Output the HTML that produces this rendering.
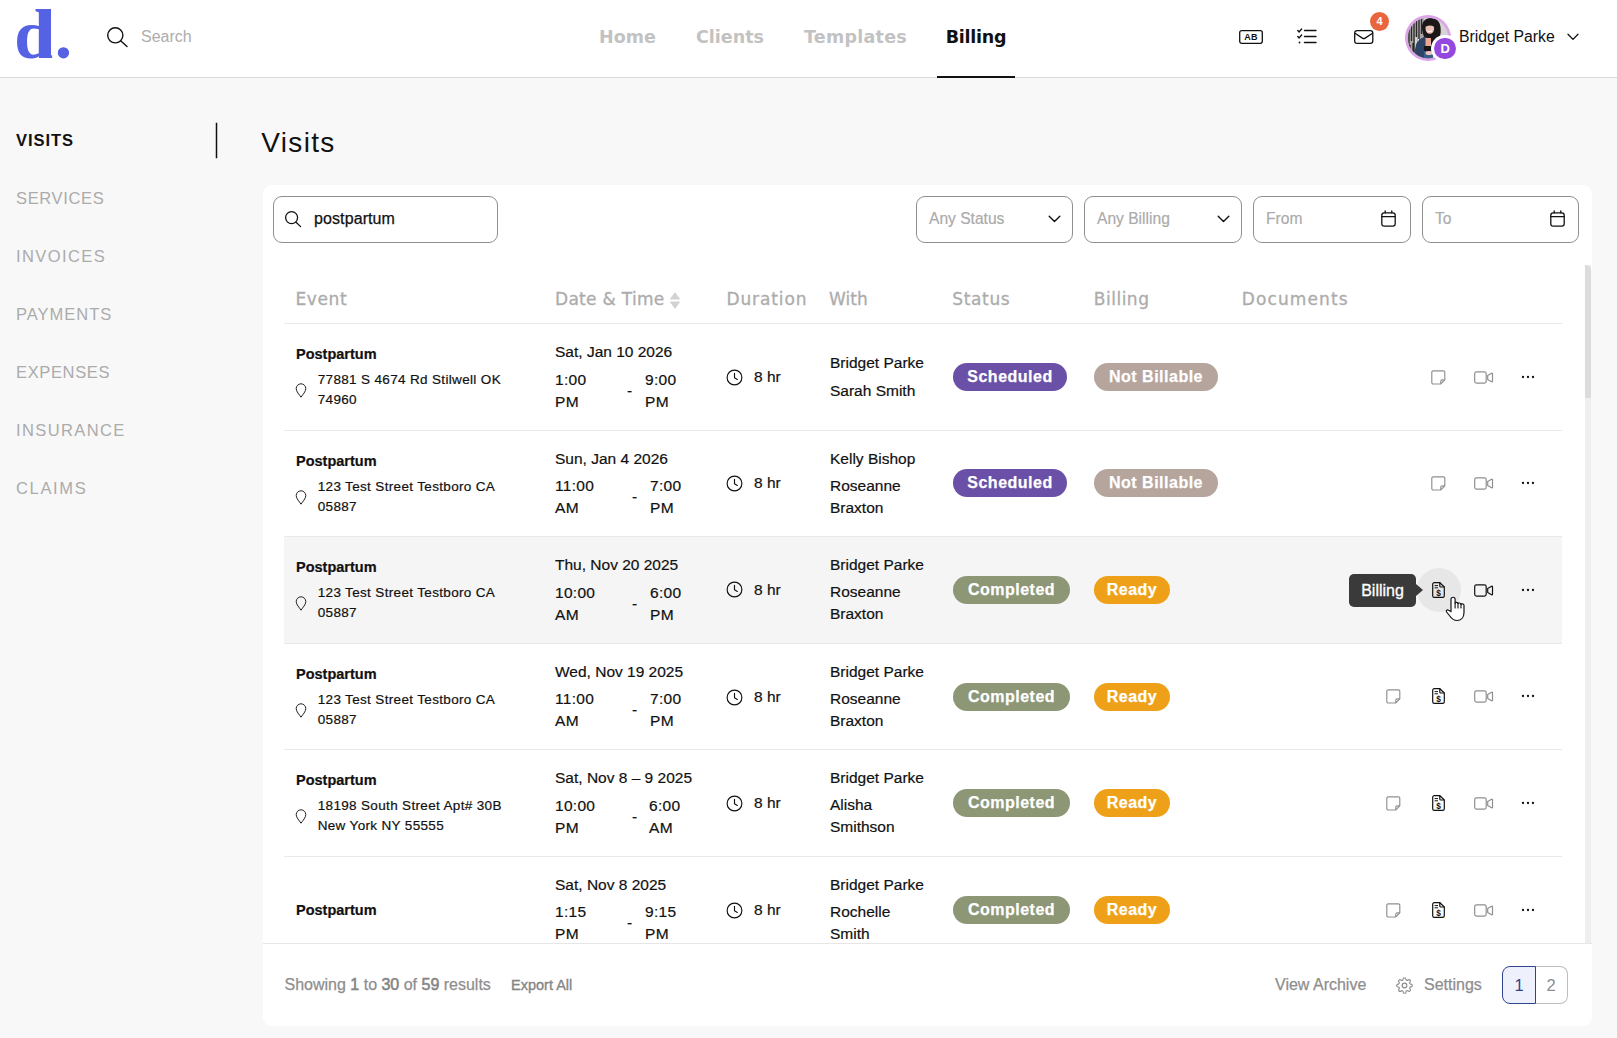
<!DOCTYPE html>
<html lang="en">
<head>
<meta charset="utf-8">
<title>Visits</title>
<style>
*{box-sizing:border-box;margin:0;padding:0}
html,body{width:1617px;height:1038px;overflow:hidden;background:#f8f8f8;font-family:"Liberation Sans",sans-serif;color:#111}
.abs{position:absolute}
svg{position:absolute;overflow:visible}
#hdr{position:absolute;left:0;top:0;width:1617px;height:78px;background:#fff;border-bottom:1px solid #dadada}
#logo{position:absolute;left:14.2px;top:.4px;font-family:"Liberation Serif",serif;font-weight:bold;font-size:69.5px;line-height:69.5px;color:#5562e4;letter-spacing:2px;white-space:nowrap}
#hsearch{position:absolute;left:141px;top:27px;font-size:16px;line-height:20px;color:#adadad}
.nav{position:absolute;top:25.7px;font-family:"DejaVu Sans","Liberation Sans",sans-serif;font-size:17.5px;line-height:22px;font-weight:bold;color:#c2c2c2;white-space:nowrap}
.nav.on{color:#111}
#navline{position:absolute;left:937px;top:76px;width:78px;height:2px;background:#111}
#uname{position:absolute;left:1459px;top:26px;font-size:15.8px;line-height:22px;color:#111;white-space:nowrap}
.side{position:absolute;left:16px;font-size:16.5px;line-height:20px;color:#ababab;white-space:nowrap}
.side.on{color:#111;font-weight:bold}
#sideline{position:absolute;left:216px;top:123px;width:1px;height:35px;background:#111;box-shadow:0 0 0 .25px #111}
h1{position:absolute;left:261.2px;top:123.5px;font-size:28px;line-height:38px;font-weight:normal;color:#111;letter-spacing:1.35px;white-space:nowrap}
#card{position:absolute;left:263px;top:185px;width:1329px;height:841px;background:#fff;border-radius:9px;overflow:hidden}
.inp{position:absolute;top:196px;height:47px;border:1px solid #8f8f8f;border-radius:9px;background:#fff;font-size:15.6px;line-height:44.5px;color:#ababab;-webkit-text-stroke:.2px #ababab;white-space:nowrap}
.inp span{position:absolute;left:12px;top:0}
.th{position:absolute;top:287.8px;font-family:"DejaVu Sans","Liberation Sans",sans-serif;font-size:17px;line-height:22px;color:#acacac;-webkit-text-stroke:.3px #acacac;white-space:nowrap}
.line{position:absolute;left:284px;width:1278px;height:1px;background:#e9e9e9}
.row{position:absolute;left:284px;width:1278px}
.row.hov{background:#f5f5f5}
.t{position:absolute;white-space:nowrap;color:#111;-webkit-text-stroke:.2px #111}
.title{font-weight:bold;font-size:14.5px;line-height:18px}
.addr{font-size:13.5px;line-height:19.8px;letter-spacing:.34px}
.dt{font-size:15.5px;line-height:22px}
.tm{letter-spacing:.3px}
.nm{font-size:15.5px;line-height:22px}
.chip{position:absolute;height:28px;border-radius:14px;color:#fff;font-weight:bold;font-size:16px;line-height:28.6px;-webkit-text-stroke:.25px #fff;text-align:center;letter-spacing:.5px;white-space:nowrap}
.sch{background:#6a50a6}.nb{background:#b5a59d}.cmp{background:#8d9675}.rdy{background:#eea118}
#foot{position:absolute;left:263px;top:943px;width:1329px;height:83px;background:#fff;border-top:1px solid #e6e6e6;border-radius:0 0 9px 9px}
.ft{position:absolute;white-space:nowrap;font-size:16px;line-height:20px;color:#8e8e8e;-webkit-text-stroke:.25px #8e8e8e}
.ft b{font-weight:normal;color:#858585;-webkit-text-stroke:.55px #858585}
</style>
</head>
<body>
<div id="hdr">
<div id="logo">d.</div>
<div class="abs" style="left:39px;top:9px;width:11.800px;height:49.300px;background:#5562e4"></div>
<svg style="left:105px;top:25px" width="24" height="24" viewBox="0 0 24 24" fill="none" stroke="#111" stroke-width="1.400" stroke-linecap="round"><circle cx="10.300" cy="10.300" r="7.600"/><path d="M15.900 16L22 21.500"/></svg>
<div id="hsearch">Search</div>
<div class="nav" style="left:599px">Home</div>
<div class="nav" style="left:696px">Clients</div>
<div class="nav" style="left:804px;letter-spacing:.25px">Templates</div>
<div class="nav on" style="left:945.700px;letter-spacing:-.25px">Billing</div>
<div id="navline"></div>
<svg style="left:1239px;top:30px" width="24" height="14" viewBox="0 0 24 14" fill="none" stroke="#111" stroke-width="1.300"><rect x=".7" y=".7" width="22.600" height="12.600" rx="2"/><text x="12" y="10.400" font-family="Liberation Sans,sans-serif" font-size="9" font-weight="bold" letter-spacing=".3" fill="#111" stroke="none" text-anchor="middle">AB</text></svg>
<svg style="left:1297px;top:28px" width="20" height="17" viewBox="0 0 20 17" fill="none" stroke="#111" stroke-width="1.400" stroke-linecap="round" stroke-linejoin="round"><path d="M7.500 2.500H19M7.500 8.500H19M7.500 14.500H19"/><path d="M.8 2.600l1.300 1.300L4.600 1M.8 8.600l1.300 1.300L4.600 7"/><circle cx="2.500" cy="14.500" r=".9" fill="#111" stroke="none"/></svg>
<svg style="left:1354px;top:30px" width="19.500" height="14" viewBox="0 0 19.500 14" fill="none" stroke="#111" stroke-width="1.300" stroke-linejoin="round"><rect x=".7" y=".7" width="18.100" height="12.600" rx="2.400"/><path d="M1 3.200l7.400 4.900c.9.600 1.800.6 2.700 0l7.400-4.900"/></svg>
<div class="abs" style="left:1370px;top:12px;width:19px;height:19px;border-radius:50%;background:#e9663c;color:#fff;font-size:11px;font-weight:bold;line-height:19px;text-align:center">4</div>
<svg style="left:1405px;top:14.600px" width="46" height="46" viewBox="0 0 46 46"><defs><clipPath id="av"><circle cx="23" cy="23" r="20.200"/></clipPath></defs><circle cx="23" cy="23" r="23" fill="#dca5e9"/><g clip-path="url(#av)"><rect x="0" y="0" width="46" height="46" fill="#d6d4d3"/><rect x="2" y="2" width="17" height="44" fill="#a9a6a6"/><path d="M4 8v34M6.500 6v20M9 5v32M11.500 4v18M14 4v26M16.500 3v16M5 30v12M8 28v14" stroke="#2b2728" stroke-width="1.300"/><path d="M11 22v14M13.500 24v10" stroke="#f2f2f2" stroke-width="1.200"/><path d="M17 12c0-6 4-9 9-9 6 0 9 4 9.500 9 .4 4 .5 8-1.500 11l-6 3-8-2c-2-4-3-8-3-12z" fill="#1d1718"/><ellipse cx="24.800" cy="13.400" rx="4.300" ry="5.400" fill="#e7c3b5"/><path d="M21 9c2-2.500 6-2.500 8.500.5l.5 3c-2-2-5-3-9-1z" fill="#1d1718"/><path d="M22.500 15.800c1.500 1 3.300 1 4.600-.1" stroke="#fff" stroke-width=".9" fill="none"/><path d="M8 44l3-14c1-4 5-7 9-8.500l2 1-1 9 1 11 5 2H8z" fill="#2d4466"/><path d="M20.500 23h5.500l-.5 8h-5z" fill="#f0a594"/><path d="M19 31h10v5H19z" fill="#17161a"/><path d="M26 22.500l3-1 1.500 9.500H26z" fill="#1d1718"/><path d="M19 36h9v8h-9z" fill="#3b5d8c"/><ellipse cx="24" cy="38" rx="3.500" ry="2" fill="#efc4b7"/></g></svg>
<div class="abs" style="left:1431.300px;top:34.500px;width:27.600px;height:27.600px;border-radius:50%;background:#fff"></div>
<div class="abs" style="left:1434.300px;top:37.500px;width:21.600px;height:21.600px;border-radius:50%;background:#9448e0;color:#fff;font-size:13px;font-weight:bold;line-height:21.600px;text-align:center">D</div>
<div id="uname">Bridget Parke</div>
<svg style="left:1567px;top:32.500px" width="12" height="8" viewBox="0 0 12 8" fill="none" stroke="#111" stroke-width="1.300" stroke-linecap="round" stroke-linejoin="round"><path d="M1 1.200L6 6.400l5-5.200"/></svg>
</div>
<div class="side on" style="top:130px;letter-spacing:0.95px">VISITS</div>
<div class="side" style="top:188px;letter-spacing:0.65px">SERVICES</div>
<div class="side" style="top:246px;letter-spacing:1.4px">INVOICES</div>
<div class="side" style="top:304px;letter-spacing:1.0px">PAYMENTS</div>
<div class="side" style="top:362px;letter-spacing:0.65px">EXPENSES</div>
<div class="side" style="top:420px;letter-spacing:1.4px">INSURANCE</div>
<div class="side" style="top:478px;letter-spacing:1.65px">CLAIMS</div>
<div id="sideline"></div>
<h1>Visits</h1>
<div id="card"></div>
<div class="inp" style="left:273px;width:225px;color:#111;-webkit-text-stroke:.25px #111;font-size:16px;letter-spacing:.1px"><span style="left:40px">postpartum</span></div>
<svg style="left:284px;top:210px" width="18" height="18" viewBox="0 0 18 18" fill="none" stroke="#111" stroke-width="1.300" stroke-linecap="round"><circle cx="7.600" cy="7.600" r="6"/><path d="M12.100 12.200L16.600 16.600"/></svg>
<div class="inp" style="left:916px;width:157px"><span>Any Status</span></div>
<svg style="left:1048px;top:215px" width="13" height="8" viewBox="0 0 13 8" fill="none" stroke="#111" stroke-width="1.400" stroke-linecap="round" stroke-linejoin="round"><path d="M1.200 1.200L6.500 6.400l5.300-5.200"/></svg>
<div class="inp" style="left:1084px;width:158px"><span>Any Billing</span></div>
<svg style="left:1217px;top:215px" width="13" height="8" viewBox="0 0 13 8" fill="none" stroke="#111" stroke-width="1.400" stroke-linecap="round" stroke-linejoin="round"><path d="M1.200 1.200L6.500 6.400l5.300-5.200"/></svg>
<div class="inp" style="left:1253px;width:158px"><span>From</span></div>
<div class="inp" style="left:1422px;width:157px"><span>To</span></div>
<svg style="left:1381px;top:210px" width="15" height="17" viewBox="0 0 15 17" fill="none" stroke="#111" stroke-width="1.300" stroke-linecap="round" stroke-linejoin="round"><rect x=".8" y="2.800" width="13.400" height="13.400" rx="2.400"/><path d="M.8 6.600h13.400M4.200.8v2M10.800.8v2"/></svg>
<svg style="left:1550px;top:210px" width="15" height="17" viewBox="0 0 15 17" fill="none" stroke="#111" stroke-width="1.300" stroke-linecap="round" stroke-linejoin="round"><rect x=".8" y="2.800" width="13.400" height="13.400" rx="2.400"/><path d="M.8 6.600h13.400M4.200.8v2M10.800.8v2"/></svg>
<div class="th" style="left:295.5px;letter-spacing:0.6px">Event</div>
<div class="th" style="left:555px;letter-spacing:0.3px">Date &amp; Time</div>
<div class="th" style="left:726.5px;letter-spacing:0.87px">Duration</div>
<div class="th" style="left:829px;letter-spacing:0.1px">With</div>
<div class="th" style="left:952.3px;letter-spacing:0.65px">Status</div>
<div class="th" style="left:1093.8px;letter-spacing:0.5px">Billing</div>
<div class="th" style="left:1241.8px;letter-spacing:1.1px">Documents</div>
<svg style="left:669px;top:291px" width="12" height="19" viewBox="0 0 12 19"><path d="M6 1.800L10.500 8H1.500z" fill="#d2d2d2" stroke="#d2d2d2" stroke-width="1" stroke-linejoin="round"/><path d="M6 17.200L1.500 11h9z" fill="#d2d2d2" stroke="#d2d2d2" stroke-width="1" stroke-linejoin="round"/></svg>
<div class="line" style="top:323px"></div>
<div class="t title" style="left:296px;top:345px">Postpartum</div>
<svg style="left:295px;top:383px" width="12" height="15" viewBox="0 0 12 15" fill="none" stroke="#222" stroke-width="1"><path d="M6 14.2C4.3 11.6 1.2 8.6 1.2 5.6a4.8 4.8 0 0 1 9.6 0c0 3-3.1 6-4.8 8.600z"/></svg>
<div class="t addr" style="left:317.700px;top:369.9px">77881 S 4674 Rd Stilwell OK<br>74960</div>
<div class="t dt" style="left:555px;top:340.5px">Sat, Jan 10 2026</div>
<div class="t dt tm" style="left:555px;top:369px">1:00<br>PM</div>
<div class="t dt" style="left:627px;top:380px">-</div>
<div class="t dt tm" style="left:645px;top:369px">9:00<br>PM</div>
<svg style="left:725.5px;top:368.5px" width="17" height="17" viewBox="0 0 17 17" fill="none" stroke="#111" stroke-width="1.150" stroke-linecap="round" stroke-linejoin="round"><circle cx="8.5" cy="8.500" r="7.400"/><path d="M8.500 4.200V8.800L11.300 10.400"/></svg>
<div class="t dt" style="left:754px;top:366px">8 hr</div>
<div class="t nm" style="left:830px;top:352px">Bridget Parke</div>
<div class="t nm" style="left:830px;top:380px">Sarah Smith</div>
<div class="chip sch" style="left:953px;top:363px;width:114px">Scheduled</div>
<div class="chip nb" style="left:1094px;top:363px;width:124px">Not Billable</div>
<svg style="left:1430.8px;top:369.7px" width="15" height="15" viewBox="0 0 15 15" fill="none" stroke="#8f8f8f" stroke-width="1.150" stroke-linejoin="round"><path d="M2.300.8h10a1.500 1.500 0 0 1 1.500 1.500v7.500l-4.200 4.200H2.300a1.500 1.500 0 0 1-1.500-1.500V2.300A1.500 1.500 0 0 1 2.300.8z"/><path d="M9.800 13.800V11.200a1.400 1.400 0 0 1 1.400-1.400h2.500"/></svg>
<svg style="left:1474px;top:370.5px" width="20" height="13" viewBox="0 0 20 13" fill="none" stroke="#8f8f8f" stroke-width="1.2" stroke-linejoin="round"><rect x=".7" y=".9" width="11.500" height="11.200" rx="1.800"/><path d="M13.700 4.500l3.900-2.300c.5-.25.900 0 .9.500v7.600c0 .5-.4.750-.9.500l-3.900-2.300z"/></svg>
<svg style="left:1520.8px;top:375px" width="14" height="4" viewBox="0 0 14 4"><circle cx="2" cy="2" r="1.150" fill="#111"/><circle cx="7" cy="2" r="1.150" fill="#111"/><circle cx="12" cy="2" r="1.150" fill="#111"/></svg>
<div class="line" style="top:430px"></div>
<div class="t title" style="left:296px;top:452px">Postpartum</div>
<svg style="left:295px;top:490px" width="12" height="15" viewBox="0 0 12 15" fill="none" stroke="#222" stroke-width="1"><path d="M6 14.2C4.3 11.6 1.2 8.6 1.2 5.6a4.8 4.8 0 0 1 9.6 0c0 3-3.1 6-4.8 8.600z"/></svg>
<div class="t addr" style="left:317.700px;top:476.9px">123 Test Street Testboro CA<br>05887</div>
<div class="t dt" style="left:555px;top:447.5px">Sun, Jan 4 2026</div>
<div class="t dt tm" style="left:555px;top:475px">11:00<br>AM</div>
<div class="t dt" style="left:632px;top:486px">-</div>
<div class="t dt tm" style="left:650px;top:475px">7:00<br>PM</div>
<svg style="left:725.5px;top:474.5px" width="17" height="17" viewBox="0 0 17 17" fill="none" stroke="#111" stroke-width="1.150" stroke-linecap="round" stroke-linejoin="round"><circle cx="8.5" cy="8.500" r="7.400"/><path d="M8.500 4.200V8.800L11.300 10.400"/></svg>
<div class="t dt" style="left:754px;top:472px">8 hr</div>
<div class="t nm" style="left:830px;top:448px">Kelly Bishop</div>
<div class="t nm" style="left:830px;top:475px">Roseanne<br>Braxton</div>
<div class="chip sch" style="left:953px;top:469px;width:114px">Scheduled</div>
<div class="chip nb" style="left:1094px;top:469px;width:124px">Not Billable</div>
<svg style="left:1430.8px;top:475.7px" width="15" height="15" viewBox="0 0 15 15" fill="none" stroke="#8f8f8f" stroke-width="1.150" stroke-linejoin="round"><path d="M2.300.8h10a1.500 1.500 0 0 1 1.500 1.500v7.500l-4.200 4.200H2.300a1.500 1.500 0 0 1-1.500-1.500V2.300A1.500 1.500 0 0 1 2.300.8z"/><path d="M9.800 13.800V11.200a1.400 1.400 0 0 1 1.400-1.400h2.500"/></svg>
<svg style="left:1474px;top:476.5px" width="20" height="13" viewBox="0 0 20 13" fill="none" stroke="#8f8f8f" stroke-width="1.2" stroke-linejoin="round"><rect x=".7" y=".9" width="11.500" height="11.200" rx="1.800"/><path d="M13.700 4.500l3.900-2.300c.5-.25.900 0 .9.500v7.600c0 .5-.4.750-.9.500l-3.900-2.300z"/></svg>
<svg style="left:1520.8px;top:481px" width="14" height="4" viewBox="0 0 14 4"><circle cx="2" cy="2" r="1.150" fill="#111"/><circle cx="7" cy="2" r="1.150" fill="#111"/><circle cx="12" cy="2" r="1.150" fill="#111"/></svg>
<div class="row hov" style="top:536px;height:107px"></div>
<div class="line" style="top:536px"></div>
<div class="t title" style="left:296px;top:558px">Postpartum</div>
<svg style="left:295px;top:596px" width="12" height="15" viewBox="0 0 12 15" fill="none" stroke="#222" stroke-width="1"><path d="M6 14.2C4.3 11.6 1.2 8.6 1.2 5.6a4.8 4.8 0 0 1 9.6 0c0 3-3.1 6-4.8 8.600z"/></svg>
<div class="t addr" style="left:317.700px;top:582.9px">123 Test Street Testboro CA<br>05887</div>
<div class="t dt" style="left:555px;top:553.5px">Thu, Nov 20 2025</div>
<div class="t dt tm" style="left:555px;top:581.5px">10:00<br>AM</div>
<div class="t dt" style="left:632px;top:592.5px">-</div>
<div class="t dt tm" style="left:650px;top:581.5px">6:00<br>PM</div>
<svg style="left:725.5px;top:581.0px" width="17" height="17" viewBox="0 0 17 17" fill="none" stroke="#111" stroke-width="1.150" stroke-linecap="round" stroke-linejoin="round"><circle cx="8.5" cy="8.500" r="7.400"/><path d="M8.500 4.200V8.800L11.300 10.400"/></svg>
<div class="t dt" style="left:754px;top:578.5px">8 hr</div>
<div class="t nm" style="left:830px;top:554px">Bridget Parke</div>
<div class="t nm" style="left:830px;top:581px">Roseanne<br>Braxton</div>
<div class="chip cmp" style="left:953px;top:576px;width:117px">Completed</div>
<div class="chip rdy" style="left:1094px;top:576px;width:76px">Ready</div>
<div class="abs" style="left:1416.500px;top:568px;width:44px;height:44px;border-radius:50%;background:#e7e7e7"></div>
<div class="abs" style="left:1349px;top:573.5px;width:67px;height:33px;border-radius:5px;background:#3a3a3a;color:#fff;font-size:16px;line-height:33px;text-align:center;-webkit-text-stroke:.3px #fff">Billing</div>
<svg style="left:1415.500px;top:584px" width="8" height="12" viewBox="0 0 8 12"><path d="M0 0l7 6-7 6z" fill="#3a3a3a"/></svg>
<svg style="left:1432px;top:582px" width="13" height="16" viewBox="0 0 13 16" fill="none" stroke="#111" stroke-width="1.2" stroke-linejoin="round" stroke-linecap="round"><path d="M2.300.7h5.600l4.400 4.300v8.700a1.600 1.600 0 0 1-1.600 1.600H2.300A1.600 1.600 0 0 1 .7 13.700V2.300A1.600 1.600 0 0 1 2.300.7z"/><path d="M7.800.8v3.200a1 1 0 0 0 1 1h3.300"/><path d="M3 3.600h2.600M3 5.800h2.600" stroke-width="1"/><text x="6.600" y="13.500" font-family="Liberation Sans,sans-serif" font-size="8.300" font-weight="bold" fill="#111" stroke="none" text-anchor="middle">$</text></svg>
<svg style="left:1474px;top:583.5px" width="20" height="13" viewBox="0 0 20 13" fill="none" stroke="#111" stroke-width="1.2" stroke-linejoin="round"><rect x=".7" y=".9" width="11.500" height="11.200" rx="1.800"/><path d="M13.700 4.500l3.900-2.300c.5-.25.900 0 .9.500v7.600c0 .5-.4.750-.9.500l-3.900-2.300z"/></svg>
<svg style="left:1520.8px;top:588px" width="14" height="4" viewBox="0 0 14 4"><circle cx="2" cy="2" r="1.150" fill="#111"/><circle cx="7" cy="2" r="1.150" fill="#111"/><circle cx="12" cy="2" r="1.150" fill="#111"/></svg>
<svg style="left:1445px;top:596px" width="21" height="26" viewBox="0 0 21 26"><path d="M6 15.600V3.300A2.050 2.050 0 0 1 10.100 3.300V7.200C10.100 6.100 13 6 13 7.600C13 6.700 16 6.700 16 8.400C16 7.400 19 7.500 19 9.200V16.500C19 21.500 16 24.500 12 24.500C8.500 24.500 6.500 22.500 4.800 20L1.600 16C.6 14.600 2.200 13.200 3.600 14.200z" fill="#fff" stroke="#111" stroke-width="1.200" stroke-linejoin="round"/><path d="M10.100 7.200V12M13 7.600V12M16 8.400V12" stroke="#111" stroke-width="1.100" fill="none" stroke-linecap="round"/></svg>
<div class="line" style="top:643px"></div>
<div class="t title" style="left:296px;top:665px">Postpartum</div>
<svg style="left:295px;top:703px" width="12" height="15" viewBox="0 0 12 15" fill="none" stroke="#222" stroke-width="1"><path d="M6 14.2C4.3 11.6 1.2 8.6 1.2 5.6a4.8 4.8 0 0 1 9.6 0c0 3-3.1 6-4.8 8.600z"/></svg>
<div class="t addr" style="left:317.700px;top:689.9px">123 Test Street Testboro CA<br>05887</div>
<div class="t dt" style="left:555px;top:660.5px">Wed, Nov 19 2025</div>
<div class="t dt tm" style="left:555px;top:688px">11:00<br>AM</div>
<div class="t dt" style="left:632px;top:699px">-</div>
<div class="t dt tm" style="left:650px;top:688px">7:00<br>PM</div>
<svg style="left:725.5px;top:688.5px" width="17" height="17" viewBox="0 0 17 17" fill="none" stroke="#111" stroke-width="1.150" stroke-linecap="round" stroke-linejoin="round"><circle cx="8.5" cy="8.500" r="7.400"/><path d="M8.500 4.200V8.800L11.300 10.400"/></svg>
<div class="t dt" style="left:754px;top:686px">8 hr</div>
<div class="t nm" style="left:830px;top:661px">Bridget Parke</div>
<div class="t nm" style="left:830px;top:688px">Roseanne<br>Braxton</div>
<div class="chip cmp" style="left:953px;top:682.5px;width:117px">Completed</div>
<div class="chip rdy" style="left:1094px;top:682.5px;width:76px">Ready</div>
<svg style="left:1385.8px;top:688.7px" width="15" height="15" viewBox="0 0 15 15" fill="none" stroke="#8f8f8f" stroke-width="1.150" stroke-linejoin="round"><path d="M2.300.8h10a1.500 1.500 0 0 1 1.500 1.500v7.500l-4.200 4.200H2.300a1.500 1.500 0 0 1-1.500-1.500V2.300A1.500 1.500 0 0 1 2.300.8z"/><path d="M9.800 13.800V11.200a1.400 1.400 0 0 1 1.400-1.400h2.500"/></svg>
<svg style="left:1432px;top:688px" width="13" height="16" viewBox="0 0 13 16" fill="none" stroke="#111" stroke-width="1.2" stroke-linejoin="round" stroke-linecap="round"><path d="M2.300.7h5.600l4.400 4.300v8.700a1.600 1.600 0 0 1-1.600 1.600H2.300A1.600 1.600 0 0 1 .7 13.700V2.300A1.600 1.600 0 0 1 2.300.7z"/><path d="M7.800.8v3.200a1 1 0 0 0 1 1h3.300"/><path d="M3 3.600h2.600M3 5.800h2.600" stroke-width="1"/><text x="6.600" y="13.500" font-family="Liberation Sans,sans-serif" font-size="8.300" font-weight="bold" fill="#111" stroke="none" text-anchor="middle">$</text></svg>
<svg style="left:1474px;top:689.5px" width="20" height="13" viewBox="0 0 20 13" fill="none" stroke="#8f8f8f" stroke-width="1.2" stroke-linejoin="round"><rect x=".7" y=".9" width="11.500" height="11.200" rx="1.800"/><path d="M13.700 4.500l3.900-2.300c.5-.25.900 0 .9.500v7.600c0 .5-.4.750-.9.500l-3.900-2.300z"/></svg>
<svg style="left:1520.8px;top:694px" width="14" height="4" viewBox="0 0 14 4"><circle cx="2" cy="2" r="1.150" fill="#111"/><circle cx="7" cy="2" r="1.150" fill="#111"/><circle cx="12" cy="2" r="1.150" fill="#111"/></svg>
<div class="line" style="top:749px"></div>
<div class="t title" style="left:296px;top:771px">Postpartum</div>
<svg style="left:295px;top:809px" width="12" height="15" viewBox="0 0 12 15" fill="none" stroke="#222" stroke-width="1"><path d="M6 14.2C4.3 11.6 1.2 8.6 1.2 5.6a4.8 4.8 0 0 1 9.6 0c0 3-3.1 6-4.8 8.600z"/></svg>
<div class="t addr" style="left:317.700px;top:795.9px">18198 South Street Apt# 30B<br>New York NY 55555</div>
<div class="t dt" style="left:555px;top:766.5px">Sat, Nov 8 – 9 2025</div>
<div class="t dt tm" style="left:555px;top:795px">10:00<br>PM</div>
<div class="t dt" style="left:632px;top:806px">-</div>
<div class="t dt tm" style="left:649px;top:795px">6:00<br>AM</div>
<svg style="left:725.5px;top:794.5px" width="17" height="17" viewBox="0 0 17 17" fill="none" stroke="#111" stroke-width="1.150" stroke-linecap="round" stroke-linejoin="round"><circle cx="8.5" cy="8.500" r="7.400"/><path d="M8.500 4.200V8.800L11.300 10.400"/></svg>
<div class="t dt" style="left:754px;top:792px">8 hr</div>
<div class="t nm" style="left:830px;top:767px">Bridget Parke</div>
<div class="t nm" style="left:830px;top:794px">Alisha<br>Smithson</div>
<div class="chip cmp" style="left:953px;top:789px;width:117px">Completed</div>
<div class="chip rdy" style="left:1094px;top:789px;width:76px">Ready</div>
<svg style="left:1385.8px;top:795.7px" width="15" height="15" viewBox="0 0 15 15" fill="none" stroke="#8f8f8f" stroke-width="1.150" stroke-linejoin="round"><path d="M2.300.8h10a1.500 1.500 0 0 1 1.500 1.500v7.500l-4.200 4.200H2.300a1.500 1.500 0 0 1-1.500-1.500V2.300A1.500 1.500 0 0 1 2.300.8z"/><path d="M9.800 13.800V11.200a1.400 1.400 0 0 1 1.400-1.400h2.500"/></svg>
<svg style="left:1432px;top:795px" width="13" height="16" viewBox="0 0 13 16" fill="none" stroke="#111" stroke-width="1.2" stroke-linejoin="round" stroke-linecap="round"><path d="M2.300.7h5.600l4.400 4.300v8.700a1.600 1.600 0 0 1-1.600 1.600H2.300A1.600 1.600 0 0 1 .7 13.700V2.300A1.600 1.600 0 0 1 2.300.7z"/><path d="M7.800.8v3.200a1 1 0 0 0 1 1h3.300"/><path d="M3 3.600h2.600M3 5.800h2.600" stroke-width="1"/><text x="6.600" y="13.500" font-family="Liberation Sans,sans-serif" font-size="8.300" font-weight="bold" fill="#111" stroke="none" text-anchor="middle">$</text></svg>
<svg style="left:1474px;top:796.5px" width="20" height="13" viewBox="0 0 20 13" fill="none" stroke="#8f8f8f" stroke-width="1.2" stroke-linejoin="round"><rect x=".7" y=".9" width="11.500" height="11.200" rx="1.800"/><path d="M13.700 4.500l3.900-2.300c.5-.25.900 0 .9.500v7.600c0 .5-.4.750-.9.500l-3.900-2.300z"/></svg>
<svg style="left:1520.8px;top:801px" width="14" height="4" viewBox="0 0 14 4"><circle cx="2" cy="2" r="1.150" fill="#111"/><circle cx="7" cy="2" r="1.150" fill="#111"/><circle cx="12" cy="2" r="1.150" fill="#111"/></svg>
<div class="line" style="top:856px"></div>
<div class="t title" style="left:296px;top:901px">Postpartum</div>
<div class="t dt" style="left:555px;top:873.5px">Sat, Nov 8 2025</div>
<div class="t dt tm" style="left:555px;top:901px">1:15<br>PM</div>
<div class="t dt" style="left:627px;top:912px">-</div>
<div class="t dt tm" style="left:645px;top:901px">9:15<br>PM</div>
<svg style="left:725.5px;top:901.5px" width="17" height="17" viewBox="0 0 17 17" fill="none" stroke="#111" stroke-width="1.150" stroke-linecap="round" stroke-linejoin="round"><circle cx="8.5" cy="8.500" r="7.400"/><path d="M8.500 4.200V8.800L11.300 10.400"/></svg>
<div class="t dt" style="left:754px;top:899px">8 hr</div>
<div class="t nm" style="left:830px;top:874px">Bridget Parke</div>
<div class="t nm" style="left:830px;top:901px">Rochelle<br>Smith</div>
<div class="chip cmp" style="left:953px;top:895.5px;width:117px">Completed</div>
<div class="chip rdy" style="left:1094px;top:895.5px;width:76px">Ready</div>
<svg style="left:1385.8px;top:902.7px" width="15" height="15" viewBox="0 0 15 15" fill="none" stroke="#8f8f8f" stroke-width="1.150" stroke-linejoin="round"><path d="M2.300.8h10a1.500 1.500 0 0 1 1.500 1.500v7.500l-4.200 4.200H2.300a1.500 1.500 0 0 1-1.500-1.500V2.300A1.500 1.500 0 0 1 2.300.8z"/><path d="M9.800 13.800V11.200a1.400 1.400 0 0 1 1.400-1.400h2.500"/></svg>
<svg style="left:1432px;top:902px" width="13" height="16" viewBox="0 0 13 16" fill="none" stroke="#111" stroke-width="1.2" stroke-linejoin="round" stroke-linecap="round"><path d="M2.300.7h5.600l4.400 4.300v8.700a1.600 1.600 0 0 1-1.600 1.600H2.300A1.600 1.600 0 0 1 .7 13.700V2.300A1.600 1.600 0 0 1 2.300.7z"/><path d="M7.800.8v3.200a1 1 0 0 0 1 1h3.300"/><path d="M3 3.600h2.600M3 5.800h2.600" stroke-width="1"/><text x="6.600" y="13.500" font-family="Liberation Sans,sans-serif" font-size="8.300" font-weight="bold" fill="#111" stroke="none" text-anchor="middle">$</text></svg>
<svg style="left:1474px;top:903.5px" width="20" height="13" viewBox="0 0 20 13" fill="none" stroke="#8f8f8f" stroke-width="1.2" stroke-linejoin="round"><rect x=".7" y=".9" width="11.500" height="11.200" rx="1.800"/><path d="M13.700 4.500l3.900-2.300c.5-.25.900 0 .9.500v7.600c0 .5-.4.750-.9.500l-3.900-2.300z"/></svg>
<svg style="left:1520.8px;top:908px" width="14" height="4" viewBox="0 0 14 4"><circle cx="2" cy="2" r="1.150" fill="#111"/><circle cx="7" cy="2" r="1.150" fill="#111"/><circle cx="12" cy="2" r="1.150" fill="#111"/></svg>
<div class="abs" style="left:1585px;top:265px;width:6px;height:678px;background:#eee"></div>
<div class="abs" style="left:1591px;top:270px;width:1px;height:673px;background:#f8f8f8"></div>
<div class="abs" style="left:1585px;top:265px;width:6px;height:133px;background:#dcdcdc;border-radius:0 5px 0 0"></div>
<div id="foot"></div>
<div class="ft" style="left:284.500px;top:975px">Showing <b>1</b> to <b>30</b> of <b>59</b> results</div>
<div class="ft" style="left:511px;top:975px;font-size:14.500px;color:#858585;-webkit-text-stroke:.35px #858585">Export All</div>
<div class="ft" style="left:1275px;top:975px">View Archive</div>
<svg style="left:1396px;top:977px" width="17" height="17" viewBox="0 0 24 24" fill="none" stroke="#8c8c8c" stroke-width="1.600" stroke-linejoin="round"><circle cx="12" cy="12" r="3.300"/><path d="M19.400 15a1.650 1.650 0 0 0 .33 1.820l.06.060a2 2 0 1 1-2.830 2.830l-.06-.06a1.650 1.650 0 0 0-1.820-.33 1.650 1.650 0 0 0-1 1.510V21a2 2 0 1 1-4 0v-.09a1.650 1.650 0 0 0-1.080-1.510 1.650 1.650 0 0 0-1.820.33l-.06.060a2 2 0 1 1-2.830-2.830l.06-.06a1.650 1.650 0 0 0 .33-1.820 1.650 1.650 0 0 0-1.510-1H3a2 2 0 1 1 0-4h.09a1.650 1.650 0 0 0 1.510-1.080 1.650 1.650 0 0 0-.33-1.820l-.06-.06a2 2 0 1 1 2.830-2.830l.06.060a1.650 1.650 0 0 0 1.820.33h.08a1.650 1.650 0 0 0 1-1.510V3a2 2 0 1 1 4 0v.09a1.650 1.650 0 0 0 1 1.510 1.650 1.650 0 0 0 1.820-.33l.06-.06a2 2 0 1 1 2.830 2.830l-.06.060a1.650 1.650 0 0 0-.33 1.820v.08a1.650 1.650 0 0 0 1.510 1H21a2 2 0 1 1 0 4h-.09a1.650 1.650 0 0 0-1.510 1z"/></svg>
<div class="ft" style="left:1424px;top:975px">Settings</div>
<div class="abs" style="left:1535px;top:966px;width:33px;height:38px;border:1px solid #bdbdbd;border-left:none;border-radius:0 8px 8px 0;background:#fff;color:#8c8c8c;font-size:16.500px;line-height:36px;text-align:center">2</div>
<div class="abs" style="left:1502px;top:966px;width:34px;height:38px;border:1px solid #2f438f;border-radius:8px 0 0 8px;background:#eef1fc;color:#2f438f;font-size:16.500px;line-height:36px;text-align:center">1</div>
</body>
</html>
